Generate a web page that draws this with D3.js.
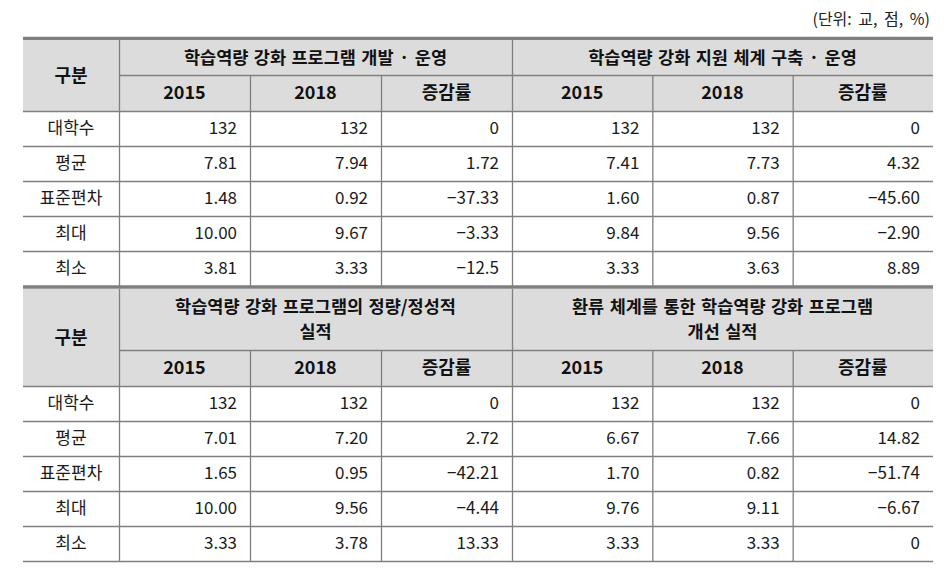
<!DOCTYPE html>
<html>
<head>
<meta charset="utf-8">
<script src="https://cdn.jsdelivr.net/npm/d3@7"></script>
<style>
body { margin: 0; background: #fff; }
text { font-family: "Noto Sans CJK KR", "Noto Sans", sans-serif; }
</style>
</head>
<body>
<div id="chart"></div>
<script>
// data
let unitLabel = "(단위: 교, 점, %)";
let rowLabels = ["대학수", "평균", "표준편차", "최대", "최소"];
let subCols = ["2015", "2018", "증감률"];

let titlesTop = [["학습역량 강화 프로그램 개발 · 운영"], ["학습역량 강화 지원 체계 구축 · 운영"]];
let titlesBottom = [["학습역량 강화 프로그램의 정량/정성적", "실적"], ["환류 체계를 통한 학습역량 강화 프로그램", "개선 실적"]];

let devOps = [["132", "132", "0"], ["7.81", "7.94", "1.72"], ["1.48", "0.92", "−37.33"], ["10.00", "9.67", "−3.33"], ["3.81", "3.33", "−12.5"]];
let supportSys = [["132", "132", "0"], ["7.41", "7.73", "4.32"], ["1.60", "0.87", "−45.60"], ["9.84", "9.56", "−2.90"], ["3.33", "3.63", "8.89"]];
let results = [["132", "132", "0"], ["7.01", "7.20", "2.72"], ["1.65", "0.95", "−42.21"], ["10.00", "9.56", "−4.44"], ["3.33", "3.78", "13.33"]];
let feedback = [["132", "132", "0"], ["6.67", "7.66", "14.82"], ["1.70", "0.82", "−51.74"], ["9.76", "9.11", "−6.67"], ["3.33", "3.33", "0"]];

let width = 949, height = 571;
let left = 23, labelRight = 119, mid = 512, right = 933;
let lineColor = "#7f7f7f", headFill = "#dcdcdc";

let svg = d3.select("#chart").append("svg")
  .attr("width", width)
  .attr("height", height);

let xLeft = d3.scaleBand().domain(subCols).range([labelRight, mid]);
let xRight = d3.scaleBand().domain(subCols).range([mid, right]);
let halves = [xLeft, xRight];

svg.append("text")
  .attr("x", 930)
  .attr("y", 25)
  .attr("text-anchor", "end")
  .attr("font-size", 16)
  .attr("word-spacing", 3)
  .attr("fill", "#222")
  .text(unitLabel);

function drawTable(top, head1, head2, titles, sets) {
  let bodyTop = top + head1 + head2;
  let y = d3.scaleBand().domain(rowLabels).range([bodyTop, bodyTop + 35 * rowLabels.length]);
  let bottom = y.range()[1];
  let g = svg.append("g");

  g.append("rect")
    .attr("x", left).attr("y", top)
    .attr("width", right - left).attr("height", head1 + head2)
    .attr("fill", headFill);

  // row lines
  g.selectAll(".row-line")
    .data(rowLabels)
    .enter().append("line")
    .attr("x1", left).attr("x2", right)
    .attr("y1", d => y(d) + 0.5).attr("y2", d => y(d) + 0.5)
    .attr("stroke", lineColor).attr("stroke-width", 1.3);

  g.append("line")
    .attr("x1", labelRight).attr("x2", right)
    .attr("y1", top + head1 + 0.5).attr("y2", top + head1 + 0.5)
    .attr("stroke", lineColor).attr("stroke-width", 1.3);

  // vertical lines
  let vx = [labelRight, mid];
  g.selectAll(".v-main")
    .data(vx)
    .enter().append("line")
    .attr("x1", d => d + 0.5).attr("x2", d => d + 0.5)
    .attr("y1", top).attr("y2", bottom)
    .attr("stroke", lineColor).attr("stroke-width", 1.3);

  halves.forEach(x => {
    g.selectAll(null)
      .data(subCols.slice(1))
      .enter().append("line")
      .attr("x1", d => x(d) + 0.5).attr("x2", d => x(d) + 0.5)
      .attr("y1", top + head1).attr("y2", bottom)
      .attr("stroke", lineColor).attr("stroke-width", 1.3);
  });

  // header texts
  g.append("text")
    .attr("x", (left + labelRight) / 2)
    .attr("y", top + (head1 + head2) / 2)
    .attr("dy", "0.35em")
    .attr("text-anchor", "middle")
    .attr("font-size", 18).attr("font-weight", 700).attr("fill", "#111")
    .text("구분");

  titles.forEach((lines, i) => {
    let x = halves[i];
    let cx = (x.range()[0] + x.range()[1]) / 2;
    let cy = top + head1 / 2;
    lines.forEach((t, j) => {
      g.append("text")
        .attr("x", cx)
        .attr("y", cy + (j - (lines.length - 1) / 2) * 25.5)
        .attr("dy", "0.35em")
        .attr("text-anchor", "middle")
        .attr("font-size", 17.5).attr("font-weight", 700).attr("fill", "#111")
        .attr("word-spacing", 1.5)
        .text(t);
    });
    g.selectAll(null)
      .data(subCols)
      .enter().append("text")
      .attr("x", d => x(d) + x.bandwidth() / 2)
      .attr("y", top + head1 + head2 / 2)
      .attr("dy", "0.35em")
      .attr("text-anchor", "middle")
      .attr("font-size", 18).attr("font-weight", 700).attr("fill", "#111")
      .text(d => d);
  });

  // row labels
  g.selectAll(".label")
    .data(rowLabels)
    .enter().append("text")
    .attr("x", (left + labelRight) / 2)
    .attr("y", d => y(d) + y.bandwidth() / 2)
    .attr("dy", "0.35em")
    .attr("text-anchor", "middle")
    .attr("font-size", 17).attr("fill", "#1a1a1a")
    .text(d => d);

  // values
  sets.forEach((vals, i) => {
    let x = halves[i];
    vals.forEach((row, r) => {
      g.selectAll(null)
        .data(row)
        .enter().append("text")
        .attr("x", (d, c) => x(subCols[c]) + x.bandwidth() - 13)
        .attr("y", y(rowLabels[r]) + y.bandwidth() / 2)
        .attr("dy", "0.35em")
        .attr("text-anchor", "end")
        .attr("font-size", 17).attr("fill", "#1a1a1a")
        .text(d => d);
    });
  });

  return bottom;
}

// thick rules
svg.append("line")
  .attr("x1", left).attr("x2", right)
  .attr("y1", 38.5).attr("y2", 38.5)
  .attr("stroke", lineColor).attr("stroke-width", 3.5);

drawTable(40, 35, 36, titlesTop, [devOps, supportSys]);
let end = drawTable(289, 61, 36, titlesBottom, [results, feedback]);

svg.append("line")
  .attr("x1", left).attr("x2", right)
  .attr("y1", 287).attr("y2", 287)
  .attr("stroke", lineColor).attr("stroke-width", 3.5);

svg.append("line")
  .attr("x1", left).attr("x2", right)
  .attr("y1", end + 0.5).attr("y2", end + 0.5)
  .attr("stroke", lineColor).attr("stroke-width", 1.3);
</script>
</body>
</html>
